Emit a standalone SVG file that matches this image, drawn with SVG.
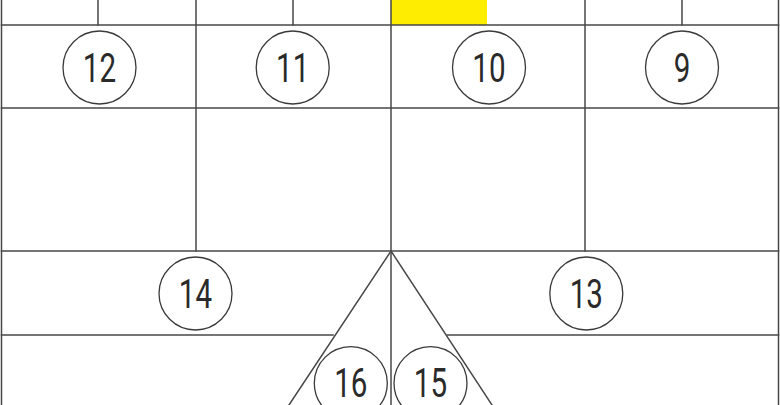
<svg xmlns="http://www.w3.org/2000/svg" width="780" height="405" viewBox="0 0 780 405">
<style>
.ln{stroke:#484848;stroke-width:1.5;fill:none;stroke-linecap:square}
.cir{stroke:#3a3a3a;stroke-width:1.3;fill:#fff}
.num{font-family:"Roboto","Liberation Sans",sans-serif;font-weight:400;font-size:40px;fill:#2a2a2a;text-anchor:middle}
</style>
<rect x="0" y="0" width="780" height="405" fill="#fff"/>
<rect id="highlight" x="391" y="0" width="96" height="25" fill="#ffed00"/>
<g id="connectors">
<path class="ln" d="M1.5 0V405M778.5 0V405"/>
<path class="ln" d="M1.5 25H778.5M1.5 108H778.5M1.5 251H778.5M1.5 335H333M447.5 335H778.5"/>
<path class="ln" d="M98 0V25M196 0V251M293 0V25M391 0V405M585 0V251M682 0V25"/>
<path class="ln" d="M391 251L289 405M391 251L492 405"/>
</g>
<g id="n12"><circle class="cir" cx="99.5" cy="67.5" r="36.5"/><text class="num" transform="translate(99.5 82.3) scale(0.74 1)">12</text></g>
<g id="n11"><circle class="cir" cx="292.7" cy="67.5" r="36.5"/><text class="num" transform="translate(292.7 82.3) scale(0.74 1)">11</text></g>
<g id="n10"><circle class="cir" cx="489" cy="67.5" r="36.5"/><text class="num" transform="translate(489 82.3) scale(0.74 1)">10</text></g>
<g id="n9"><circle class="cir" cx="682" cy="67.5" r="36.5"/><text class="num" transform="translate(682 82.3) scale(0.74 1)">9</text></g>
<g id="n14"><circle class="cir" cx="195.5" cy="293.5" r="36.5"/><text class="num" transform="translate(195.5 308) scale(0.74 1)">14</text></g>
<g id="n13"><circle class="cir" cx="586.3" cy="293.5" r="36.5"/><text class="num" transform="translate(586.3 308) scale(0.74 1)">13</text></g>
<g id="n16"><circle class="cir" cx="350.8" cy="383.2" r="36.5"/><text class="num" transform="translate(350.8 396.8) scale(0.74 1)">16</text></g>
<g id="n15"><circle class="cir" cx="430.5" cy="383.2" r="36.5"/><text class="num" transform="translate(430.5 396.8) scale(0.74 1)">15</text></g>
</svg>
